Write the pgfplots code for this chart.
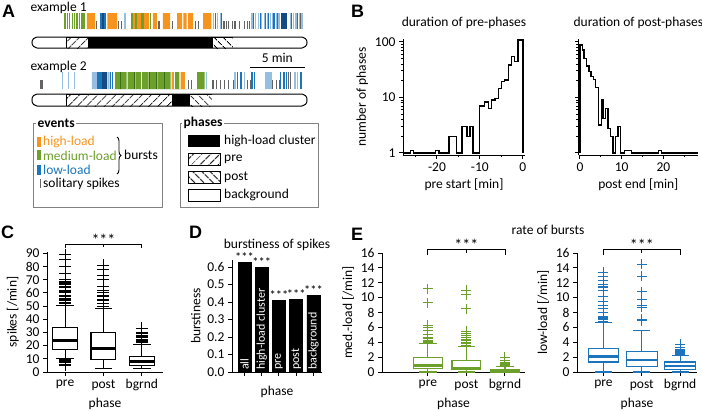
\documentclass[border=0pt]{standalone}
\usepackage{fontspec}
\setmainfont{Carlito}
\newfontfamily\letterfont{Liberation Sans}
\usepackage{pgfplots}
\pgfplotsset{compat=1.18}
\usepgfplotslibrary{statistics}
\usetikzlibrary{patterns.meta,decorations.pathreplacing}

\definecolor{cOr}{RGB}{247,148,30}
\definecolor{cGr}{RGB}{108,160,42}
\definecolor{cDg}{RGB}{60,110,25}
\definecolor{cBl}{RGB}{28,117,188}
\definecolor{cLb}{RGB}{150,190,225}
\definecolor{cDb}{RGB}{20,75,130}
\definecolor{cGy}{RGB}{100,100,100}
\definecolor{cBox}{RGB}{130,130,130}

\newcommand\fnt{\fontsize{13.5}{15}\selectfont}
\newcommand\letter[1]{{\letterfont\bfseries\fontsize{18}{18}\selectfont #1}}
\newcommand\stars{{\fontsize{16}{16}\selectfont ***}}

\tikzset{inlab/.style={rotate=90, anchor=west, white, inner sep=1pt, font=\fontsize{12}{12}\selectfont}}
\pgfplotsset{
  panel/.style={
    scale only axis, anchor=south west, clip=false,
    axis lines=left, axis line style={-, line width=1pt},
    tick style={black, line width=1pt},
    tick align=outside, major tick length=4pt, minor tick length=2.5pt,
    /pgf/number format/assume math mode=true,
    ticklabel style={font=\fnt}, label style={font=\fnt}, title style={font=\fnt},
    boxplot/draw direction=y,
  },
  spk/.style={only marks, mark=|, mark size=8pt, mark options={line width=1.2pt}},
  spkS/.style={only marks, mark=|, mark size=4pt, mark options={line width=1.1pt}, cGy},
  spkB/.style={only marks, mark=|, mark size=8.5pt, mark options={line width=1.2pt}},
  spkBS/.style={only marks, mark=|, mark size=4.5pt, mark options={line width=1.1pt}, cGy},
  blk/.style={draw=none, forget plot},
  bx/.style={line width=1.1pt, mark=+, mark size=6pt, mark options={line width=1pt}},
  bxe/.style={line width=1.1pt, mark=+, mark size=5pt, mark options={line width=1pt}},
}

\begin{document}
\begin{tikzpicture}[font=\fnt]

% ---------------- A: example rasters and phases
\begin{axis}[scale only axis, anchor=south west, at={(30pt,-110pt)},
  width=290pt, height=100pt, xmin=-0.18, xmax=26.18, ymin=-110, ymax=-10,
  axis lines=none, clip=false]
% example 1, bursts
\addplot[blk, fill=cOr] coordinates {
 (5.0,-29)(5.0,-13)(5.75,-13)(5.75,-29) (6.85,-29)(6.85,-13)(7.75,-13)(7.75,-29)
 (9.2,-29)(9.2,-13)(9.4,-13)(9.4,-29) (9.55,-29)(9.55,-13)(9.9,-13)(9.9,-29)
 (10.2,-29)(10.2,-13)(10.65,-13)(10.65,-29) (11.0,-29)(11.0,-13)(11.35,-13)(11.35,-29)
 (11.9,-29)(11.9,-13)(12.55,-13)(12.55,-29) (13.2,-29)(13.2,-13)(13.65,-13)(13.65,-29)
 (13.75,-29)(13.75,-13)(14.05,-13)(14.05,-29) (14.2,-29)(14.2,-13)(14.65,-13)(14.65,-29)
 (15.55,-29)(15.55,-13)(16.3,-13)(16.3,-29)};
\addplot[blk, fill=cGr] coordinates {(4.45,-29)(4.45,-13)(4.8,-13)(4.8,-29)};
\addplot[blk, fill=cBl] coordinates {(6.2,-29)(6.2,-13)(6.7,-13)(6.7,-29)};
\addplot[blk, fill=cDb] coordinates {(22.6,-29)(22.6,-13)(23.2,-13)(23.2,-29)};
\addplot[spk, cGr] coordinates {(3.0,-21)(3.2,-21)(3.4,-21)(3.65,-21)(3.85,-21)(4.1,-21)(4.3,-21)(9.1,-21)(9.45,-21)(10.0,-21)(10.1,-21)(10.75,-21)};
\addplot[spk, cDb] coordinates {(6.45,-21)};
\addplot[spk, cLb] coordinates {(8.45,-21)(16.5,-21)(16.85,-21)(17.1,-21)(20.0,-21)(20.35,-21)(20.6,-21)(20.85,-21)(21.1,-21)(21.4,-21)(21.65,-21)(21.9,-21)(22.2,-21)(22.45,-21)(23.5,-21)(23.75,-21)(24.0,-21)(24.3,-21)(24.55,-21)};
\addplot[spk, cBl] coordinates {(16.65,-21)(17.25,-21)(20.15,-21)(20.75,-21)(21.5,-21)(22.0,-21)(23.6,-21)(24.15,-21)};
\addplot[spk, cGy] coordinates {(21.25,-21)(22.35,-21)(24.4,-21)};
\addplot[spkS] coordinates {(5.9,-25)(7.9,-25)(8.1,-25)(11.55,-25)(12.75,-25)(14.9,-25)(15.15,-25)(17.45,-25)(17.7,-25)(17.9,-25)(18.2,-25)(18.45,-25)(18.9,-25)(19.35,-25)(19.6,-25)(19.8,-25)};
% example 1, phases
\addplot[blk, fill=white] coordinates {(3.09,-48)(0.45,-48)(0.15,-46.5)(0.03,-44.5)(0,-42.5)(0.03,-40.5)(0.15,-38.5)(0.45,-37)(3.09,-37)};
\addplot[forget plot, draw=black, line width=0.8pt, pattern={Lines[angle=45,distance=6.5pt,line width=1.1pt]}] coordinates {(3.09,-48)(3.09,-37)(5.09,-37)(5.09,-48)};
\addplot[blk, fill=black] coordinates {(5.09,-48)(5.09,-37)(16.36,-37)(16.36,-48)};
\addplot[forget plot, draw=black, line width=0.8pt, pattern={Lines[angle=-45,distance=6.5pt,line width=1.1pt]}] coordinates {(16.36,-48)(16.36,-37)(18.27,-37)(18.27,-48)};
\addplot[blk, fill=white] coordinates {(18.27,-37)(24.55,-37)(24.85,-38.5)(24.97,-40.5)(25,-42.5)(24.97,-44.5)(24.85,-46.5)(24.55,-48)(18.27,-48)};
\addplot[forget plot, black, line width=1pt] coordinates {(0.45,-37)(24.55,-37)(24.85,-38.5)(24.97,-40.5)(25,-42.5)(24.97,-44.5)(24.85,-46.5)(24.55,-48)(0.45,-48)(0.15,-46.5)(0.03,-44.5)(0,-42.5)(0.03,-40.5)(0.15,-38.5)(0.45,-37)};
% scale bar
\addplot[forget plot, black, line width=1pt] coordinates {(19.8,-67)(24.8,-67)};
\node[anchor=south] at (axis cs:22.3,-66) {5 min};
% example 2, bursts
\addplot[blk, fill=cGy] coordinates {(0.73,-89)(0.73,-80)(1.0,-80)(1.0,-89)};
\addplot[blk, fill=cLb] coordinates {(5.45,-89)(5.45,-72)(5.9,-72)(5.9,-89) (6.85,-89)(6.85,-72)(7.05,-72)(7.05,-89) (21.2,-89)(21.2,-72)(21.8,-72)(21.8,-89)};
\addplot[blk, fill=cBl] coordinates {(5.9,-89)(5.9,-72)(6.35,-72)(6.35,-89)};
\addplot[blk, fill=cDb] coordinates {(6.35,-89)(6.35,-72)(6.8,-72)(6.8,-89)};
\addplot[blk, fill=cGr] coordinates {
 (7.55,-89)(7.55,-72)(8.0,-72)(8.0,-89) (8.1,-89)(8.1,-72)(8.6,-72)(8.6,-89)
 (8.7,-89)(8.7,-72)(9.3,-72)(9.3,-89) (9.4,-89)(9.4,-72)(9.9,-72)(9.9,-89)
 (10.0,-89)(10.0,-72)(10.6,-72)(10.6,-89) (10.7,-89)(10.7,-72)(11.3,-72)(11.3,-89)
 (11.4,-89)(11.4,-72)(12.0,-72)(12.0,-89) (12.1,-89)(12.1,-72)(12.6,-72)(12.6,-89)
 (13.0,-89)(13.0,-72)(13.4,-72)(13.4,-89) (15.0,-89)(15.0,-72)(15.7,-72)(15.7,-89)};
\addplot[blk, fill=cOr] coordinates {(12.7,-89)(12.7,-72)(12.9,-72)(12.9,-89) (13.5,-89)(13.5,-72)(13.9,-72)(13.9,-89)};
\addplot[spkB, cDg] coordinates {(8.05,-80.5)(9.35,-80.5)(10.65,-80.5)(11.35,-80.5)(12.05,-80.5)};
\addplot[spkB, cLb] coordinates {(2.8,-80.5)(3.3,-80.5)(3.9,-80.5)(15.85,-80.5)(18.45,-80.5)(19.3,-80.5)(23.9,-80.5)(24.1,-80.5)};
\addplot[spkB, cBl] coordinates {(7.15,-80.5)(7.35,-80.5)(18.7,-80.5)(19.0,-80.5)(20.0,-80.5)(20.2,-80.5)(22.6,-80.5)(22.9,-80.5)(23.15,-80.5)(24.45,-80.5)};
\addplot[spkB, cGy] coordinates {(23.3,-80.5)(23.5,-80.5)};
\addplot[spkBS] coordinates {(14.2,-84.5)(14.5,-84.5)(16.45,-84.5)(16.8,-84.5)(17.1,-84.5)(17.5,-84.5)(17.9,-84.5)(18.3,-84.5)(19.55,-84.5)(19.85,-84.5)(21.9,-84.5)(22.2,-84.5)(22.5,-84.5)};
% example 2, phases
\addplot[blk, fill=white] coordinates {(3.09,-106)(0.45,-106)(0.15,-104.5)(0.03,-102.5)(0,-100)(0.03,-97.5)(0.15,-95.5)(0.45,-94)(3.09,-94)};
\addplot[forget plot, draw=black, line width=0.8pt, pattern={Lines[angle=45,distance=6.5pt,line width=1.1pt]}] coordinates {(3.09,-106)(3.09,-94)(12.73,-94)(12.73,-106)};
\addplot[blk, fill=black] coordinates {(12.73,-106)(12.73,-94)(14.27,-94)(14.27,-106)};
\addplot[forget plot, draw=black, line width=0.8pt, pattern={Lines[angle=-45,distance=6.5pt,line width=1.1pt]}] coordinates {(14.27,-106)(14.27,-94)(16.36,-94)(16.36,-106)};
\addplot[blk, fill=white] coordinates {(16.36,-94)(24.55,-94)(24.85,-95.5)(24.97,-97.5)(25,-100)(24.97,-102.5)(24.85,-104.5)(24.55,-106)(16.36,-106)};
\addplot[forget plot, black, line width=1pt] coordinates {(0.45,-94)(24.55,-94)(24.85,-95.5)(24.97,-97.5)(25,-100)(24.97,-102.5)(24.85,-104.5)(24.55,-106)(0.45,-106)(0.15,-104.5)(0.03,-102.5)(0,-100)(0.03,-97.5)(0.15,-95.5)(0.45,-94)};
\end{axis}

\node[anchor=west] at (27pt,-8pt) {example 1};
\node[anchor=west] at (27pt,-67pt) {example 2};

% legend: events
\draw[cBox, line width=0.8pt] (33pt,-123pt) rectangle (162pt,-207pt);
\node[anchor=west, fill=white, inner sep=1.5pt, font=\fnt\bfseries] at (36pt,-123pt) {events};
\fill[cOr] (37pt,-137pt) rectangle (41pt,-147pt);
\fill[cGr] (37pt,-150pt) rectangle (41pt,-160pt);
\fill[cBl] (37pt,-165pt) rectangle (41pt,-175pt);
\draw[cGy, line width=0.8pt] (40pt,-179pt) -- (40pt,-188pt);
\node[anchor=west, cOr, inner sep=1pt] at (42pt,-142pt) {high-load};
\node[anchor=west, cGr, inner sep=1pt] at (42pt,-156pt) {medium-load};
\node[anchor=west, cBl, inner sep=1pt] at (42pt,-170pt) {low-load};
\node[anchor=west, inner sep=1pt] at (42pt,-184pt) {solitary spikes};
\draw[decorate, decoration={brace, amplitude=4pt}, line width=0.9pt] (117pt,-137pt) -- (117pt,-174pt);
\node[anchor=west, inner sep=1pt] at (123pt,-155pt) {bursts};

% legend: phases
\draw[cBox, line width=0.8pt] (180pt,-123pt) rectangle (318pt,-207pt);
\node[anchor=west, fill=white, inner sep=1.5pt, font=\fnt\bfseries] at (182pt,-123pt) {phases};
\fill[black] (188pt,-135pt) rectangle (220pt,-147pt);
\draw[line width=0.8pt, pattern={Lines[angle=45,distance=6.5pt,line width=1.1pt]}] (188pt,-153pt) rectangle (220pt,-165pt);
\draw[line width=0.8pt, pattern={Lines[angle=-45,distance=6.5pt,line width=1.1pt]}] (188pt,-171pt) rectangle (220pt,-183pt);
\draw[line width=0.8pt] (188pt,-189pt) rectangle (220pt,-201pt);
\node[anchor=west, inner sep=1pt] at (223pt,-141pt) {high-load cluster};
\node[anchor=west, inner sep=1pt] at (223pt,-159pt) {pre};
\node[anchor=west, inner sep=1pt] at (223pt,-177pt) {post};
\node[anchor=west, inner sep=1pt] at (223pt,-195pt) {background};

% ---------------- B: histograms
\begin{axis}[panel, at={(403pt,-155pt)}, width=122pt, height=116.4pt,
  ymode=log, ymin=0.92, ymax=115, xmin=-27.9, xmax=0.5,
  xtick={-20,-10,0}, minor xtick={-25,-15,-5},
  ytick={1,10,100}, yticklabels={1,10,100},
  title={duration of pre-phases}, xlabel={pre start [min]}, ylabel={number of phases}]
\addplot[const plot, line width=1.3pt, black] coordinates {
 (-27.9,1)(-26.2,1.12)(-25.4,1)(-20.3,1.12)(-19.5,1)(-17.2,2)(-15.5,1)(-14.2,3)(-13.0,2)(-12.3,3)(-11.6,1)
 (-10.1,7)(-8.9,8.3)(-8.0,6.4)(-7.3,9)(-6.5,9.7)(-5.7,14.6)(-4.9,19.3)(-4.2,20.7)(-3.4,38.5)(-2.6,54.5)(-1.9,44)(-1.1,108)(0,1)};
\end{axis}
\begin{axis}[panel, at={(578.7pt,-155pt)}, width=119.3pt, height=116.4pt,
  ymode=log, ymin=0.92, ymax=115, xmin=-0.3, xmax=28.3,
  xtick={0,10,20}, minor xtick={5,15,25},
  ytick={1,10,100}, yticklabels={},
  title={duration of post-phases}, xlabel={post end [min]}]
\addplot[const plot, line width=1.3pt, black] coordinates {
 (0,1)(0,88)(0.56,72)(0.95,51)(1.59,37)(2.14,29)(2.62,24)(3.17,21)(3.73,15)(4.52,3.2)(5.16,9)(5.56,4.2)
 (6.19,6.4)(6.75,2.8)(7.3,2)(7.94,1)(8.49,2)(9.13,3)(9.68,1)(10.7,1.12)(12.3,1)(18.8,1.12)(19.6,1)(28.3,1)};
\end{axis}

% ---------------- C: spikes
\begin{axis}[panel, at={(47pt,-372pt)}, width=116pt, height=120pt,
  xmin=0.53, xmax=3.55, ymin=0, ymax=91, ytick={0,10,...,90},
  xtick={1,2,3}, xticklabels={pre,post,bgrnd},
  xlabel={phase}, ylabel={spikes [/min]},
  boxplot/box extend=0.65, boxplot/whisker extend=0.45,
  boxplot/every median/.style={line width=2.6pt}]
\addplot[bx, black, boxplot prepared={draw position=1, lower whisker=10, lower quartile=17, median=24, upper quartile=34, upper whisker=50.5}]
 table[row sep=\\, y index=0] {y\\5\\6\\7\\7.5\\8\\8.5\\9\\9.5\\52\\53\\54\\55\\56\\57\\58\\60\\61\\62\\64\\65\\66\\67\\68\\69\\70\\75\\80\\85\\89\\};
\addplot[bx, black, boxplot prepared={draw position=2, lower whisker=2.5, lower quartile=9.5, median=18, upper quartile=30, upper whisker=48}]
 table[row sep=\\, y index=0] {y\\50\\52\\54\\55\\57\\58\\60\\62\\65\\70\\73\\78\\81\\};
\addplot[bx, black, boxplot prepared={draw position=3, lower whisker=2.5, lower quartile=5, median=8, upper quartile=12, upper whisker=21}]
 table[row sep=\\, y index=0] {y\\22\\23\\24\\25\\26\\27\\28\\29\\30\\33\\};
\draw[line width=0.9pt] (axis cs:1,94) -- (axis cs:1,97) -- (axis cs:3,97) -- (axis cs:3,94);
\draw[line width=0.9pt] (axis cs:2,97) -- (axis cs:2,95);
\node[anchor=south, inner sep=0pt] at (axis cs:2,96) {\stars};
\end{axis}

% ---------------- D: burstiness
\begin{axis}[panel, at={(232pt,-372pt)}, width=90pt, height=112pt,
  xmin=0.27, xmax=5.5, ymin=0, ymax=0.64, ytick={0,0.1,...,0.6},
  yticklabel style={/pgf/number format/.cd, fixed, fixed zerofill, precision=1},
  xtick={1,2,3,4,5}, xticklabels={},
  title={burstiness of spikes}, xlabel={phase}, ylabel={burstiness}]
\addplot[ybar, bar width=13pt, fill=black, draw=black,
  nodes near coords={***}, every node near coord/.style={font=\fontsize{12.5}{12}\selectfont, inner sep=0.5pt, black}]
 coordinates {(1,0.625)(2,0.60)(3,0.41)(4,0.415)(5,0.44)};
\node[inlab] at (axis cs:1,0.005) {all};
\node[inlab] at (axis cs:2,0.005) {high-load cluster};
\node[inlab] at (axis cs:3,0.005) {pre};
\node[inlab] at (axis cs:4,0.005) {post};
\node[inlab] at (axis cs:5,0.005) {background};
\end{axis}

% ---------------- E: rate of bursts
\node at (548pt,-230pt) {rate of bursts};
\begin{axis}[panel, at={(382pt,-372pt)}, width=143pt, height=119pt,
  xmin=-0.19, xmax=3.52, ymin=0, ymax=16, ytick={0,2,...,16},
  xtick={1,2,3}, xticklabels={pre,post,bgrnd},
  xlabel={phase}, ylabel={med.-load [/min]},
  boxplot/box extend=0.75, boxplot/whisker extend=0.45,
  boxplot/every median/.style={line width=2.4pt}]
\addplot[bxe, cGr, boxplot prepared={draw position=1, lower whisker=0, lower quartile=0.45, median=0.9, upper quartile=1.9, upper whisker=3.8}]
 table[row sep=\\, y index=0] {y\\3.9\\4.0\\4.1\\4.2\\4.3\\4.5\\4.6\\5.0\\5.6\\6.0\\6.3\\9.3\\11.2\\};
\addplot[bxe, cGr, boxplot prepared={draw position=2, lower whisker=0, lower quartile=0.3, median=0.5, upper quartile=1.6, upper whisker=3.4}]
 table[row sep=\\, y index=0] {y\\3.6\\3.8\\4.0\\4.2\\4.4\\4.6\\4.9\\5.2\\5.5\\8.5\\10.4\\11.0\\};
\addplot[bxe, cGr, boxplot prepared={draw position=3, lower whisker=0, lower quartile=0, median=0.1, upper quartile=0.3, upper whisker=0.7}]
 table[row sep=\\, y index=0] {y\\0.8\\0.9\\1.0\\1.1\\1.2\\1.3\\1.5\\2.0\\};
\draw[line width=0.9pt] (axis cs:1,15.7) -- (axis cs:1,16.5) -- (axis cs:3,16.5) -- (axis cs:3,15.7);
\draw[line width=0.9pt] (axis cs:2,16.5) -- (axis cs:2,16);
\node[anchor=south, inner sep=0pt] at (axis cs:2,16.3) {\stars};
\end{axis}
\begin{axis}[panel, at={(577pt,-372pt)}, width=120pt, height=119pt,
  xmin=0.31, xmax=3.44, ymin=0, ymax=16, ytick={0,2,...,16},
  xtick={1,2,3}, xticklabels={pre,post,bgrnd},
  xlabel={phase}, ylabel={low-load [/min]},
  boxplot/box extend=0.8, boxplot/whisker extend=0.45,
  boxplot/every median/.style={line width=2.4pt}]
\addplot[bxe, cBl, boxplot prepared={draw position=1, lower whisker=0, lower quartile=1.35, median=2.1, upper quartile=3.15, upper whisker=6.6}]
 table[row sep=\\, y index=0] {y\\6.8\\7.0\\7.2\\7.3\\7.5\\8.0\\8.5\\9.0\\9.5\\10.1\\11.0\\11.3\\11.5\\11.8\\12.3\\12.9\\13.4\\};
\addplot[bxe, cBl, boxplot prepared={draw position=2, lower whisker=0, lower quartile=0.75, median=1.6, upper quartile=2.7, upper whisker=5.6}]
 table[row sep=\\, y index=0] {y\\6.9\\7.0\\7.1\\8.7\\8.9\\9.0\\9.8\\10.8\\12.9\\14.5\\};
\addplot[bxe, cBl, boxplot prepared={draw position=3, lower whisker=0, lower quartile=0.35, median=0.8, upper quartile=1.35, upper whisker=2.2}]
 table[row sep=\\, y index=0] {y\\2.4\\2.5\\2.6\\2.7\\2.8\\2.9\\3.0\\3.3\\3.7\\};
\draw[line width=0.9pt] (axis cs:1,15.7) -- (axis cs:1,16.5) -- (axis cs:3,16.5) -- (axis cs:3,15.7);
\draw[line width=0.9pt] (axis cs:2,16.5) -- (axis cs:2,16);
\node[anchor=south, inner sep=0pt] at (axis cs:2,16.3) {\stars};
\end{axis}

% panel letters
\node[anchor=west, inner sep=0pt] at (2pt,-11pt) {\letter{A}};
\node[anchor=west, inner sep=0pt] at (351pt,-11pt) {\letter{B}};
\node[anchor=west, inner sep=0pt] at (1pt,-232pt) {\letter{C}};
\node[anchor=west, inner sep=0pt] at (189pt,-232pt) {\letter{D}};
\node[anchor=west, inner sep=0pt] at (351pt,-234pt) {\letter{E}};

\pgfresetboundingbox
\path (0pt,0pt) rectangle (702pt,-410pt);
\end{tikzpicture}
\end{document}
